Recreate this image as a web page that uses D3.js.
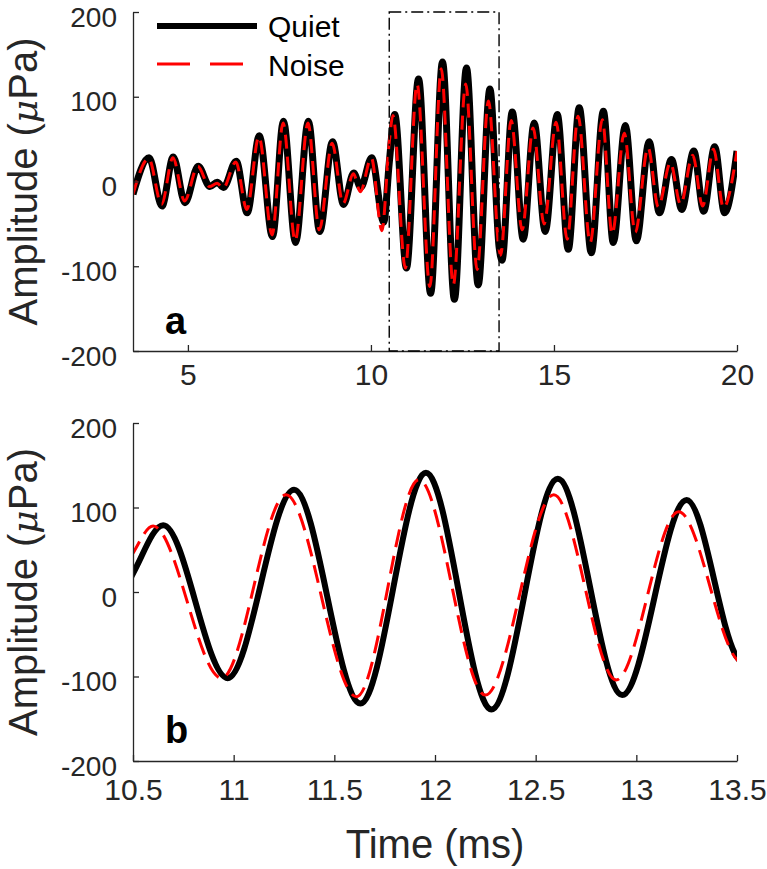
<!DOCTYPE html>
<html>
<head>
<meta charset="utf-8">
<script src="https://cdn.jsdelivr.net/npm/d3@7"></script>
<style>
  html, body { margin: 0; padding: 0; background: #fff; }
  svg { display: block; font-family: "Liberation Sans", Arial, Helvetica, sans-serif; }
  .axis path, .axis line { stroke: #262626; stroke-width: 1.3; }
  .axis text { fill: #262626; font-size: 30px; font-family: "Liberation Sans", Arial, sans-serif; }
  .yaxis text { font-size: 28px; }
</style>
</head>
<body>
<svg id="chart" width="767" height="869"></svg>
<script>
// ---- Data ----
const seriesNames = ["Quiet", "Noise"];
// Quiet (black solid): times (ms) and amplitudes (µPa) at extrema / anchor points
const tQuiet = [3.5, 3.94, 4.29, 4.60, 4.92, 5.28, 5.60, 5.80, 5.97, 6.32, 6.62, 6.95, 7.31, 7.61, 7.94,
  8.29, 8.60, 8.95, 9.25, 9.53, 9.72, 10.02, 10.35, 10.5, 10.65, 10.97, 11.30, 11.63, 11.955, 12.28,
  12.61, 12.93, 13.25, 13.5, 13.58, 13.86, 14.16, 14.46, 14.76, 15.09, 15.39, 15.69, 16.02, 16.35,
  16.62, 16.95, 17.25, 17.60, 17.88, 18.21, 18.49, 18.82, 19.09, 19.39, 19.66, 20.0];
const aQuiet = [-15, 28, -29, 29, -25, 18, -6, -1, -7, 24, -37, 54, -65, 71, -72,
  71, -59, 47, -27, 10, -7, 28, -48, 22, 79, -102, 121, -132, 141, -139,
  134, -122, 109, -77, -93, 82, -68, 69, -59, 79, -80, 87, -84, 83,
  -72, 66, -70, 47, -37, 26, -33, 36, -35, 41, -37, 36];
// Noise (red dashed)
const tNoise = [3.5, 3.93, 4.28, 4.59, 4.91, 5.27, 5.59, 5.80, 5.96, 6.31, 6.61, 6.94, 7.30, 7.60, 7.93,
  8.28, 8.59, 8.94, 9.24, 9.52, 9.71, 10.01, 10.30, 10.5, 10.60, 10.94, 11.26, 11.61, 11.92, 12.25,
  12.59, 12.90, 13.21, 13.5, 13.54, 13.83, 14.13, 14.43, 14.73, 15.06, 15.36, 15.66, 15.99, 16.32,
  16.59, 16.92, 17.22, 17.57, 17.85, 18.18, 18.46, 18.79, 19.06, 19.36, 19.63, 20.0];
const aNoise = [-15, 27, -27, 28, -23, 18, -6, -2, -8, 23, -33, 53, -63, 69, -70,
  69, -57, 45, -26, 9, -12, 28, -58, 46, 78, -102, 115, -124, 133, -122,
  115, -104, 95, -80, -87, 72, -57, 63, -50, 70, -68, 77, -72, 73,
  -62, 57, -60, 40, -30, 22, -27, 31, -29, 38, -31, 36];

const yTicks = [-200, -100, 0, 100, 200];
const xTicksTop = [5, 10, 15, 20];
const xTicksBottom = [10.5, 11, 11.5, 12, 12.5, 13, 13.5];
const zoomWindow = [10.5, 13.5];
const yDomain = [-200, 200];
const xDomainTop = [3.5, 20];

const quiet = tQuiet.map((t, i) => ({ t, a: aQuiet[i] }));
const noise = tNoise.map((t, i) => ({ t, a: aNoise[i] }));

// ---- Drawing ----
const svg = d3.select("#chart");

function panel(cfg) {
  const g = svg.append("g");
  const x = d3.scaleLinear().domain(cfg.xDomain).range([133, 737]);
  const y = d3.scaleLinear().domain(yDomain).range([cfg.yBottom, cfg.yTop]);

  const clipId = "clip" + cfg.id;
  svg.append("defs").append("clipPath").attr("id", clipId)
    .append("rect").attr("x", 133).attr("y", cfg.yTop - 20)
    .attr("width", 604).attr("height", cfg.yBottom - cfg.yTop + 40);

  const line = d3.line().x(d => x(d.t)).y(d => y(d.a)).curve(d3.curveMonotoneX);

  const lines = g.append("g").attr("clip-path", `url(#${clipId})`);
  lines.append("path").datum(quiet)
    .attr("d", line).attr("fill", "none").attr("stroke", "#000")
    .attr("stroke-width", cfg.blackW).attr("stroke-linejoin", "round");
  lines.append("path").datum(noise)
    .attr("d", line).attr("fill", "none").attr("stroke", "#ff0000")
    .attr("stroke-width", 3).attr("stroke-dasharray", cfg.dash);

  // axes
  const ay = g.append("g").attr("class", "axis yaxis")
    .attr("transform", "translate(133,0)")
    .call(d3.axisLeft(y).tickValues(yTicks).tickFormat(d => String(d))
      .tickSizeInner(-6).tickSizeOuter(0).tickPadding(16));
  ay.selectAll("text").attr("dy", "0.5em");

  g.append("g").attr("class", "axis")
    .attr("transform", `translate(0,${cfg.yBottom})`)
    .call(d3.axisBottom(x).tickValues(cfg.xTicks).tickFormat(d => String(d))
      .tickSizeInner(-6).tickSizeOuter(0).tickPadding(cfg.xPad));

  // y label
  const lab = g.append("text")
    .attr("transform", `translate(37,${(cfg.yTop + cfg.yBottom) / 2}) rotate(-90)`)
    .attr("text-anchor", "middle").attr("font-size", 40).attr("fill", "#262626");
  lab.append("tspan").text("Amplitude (");
  lab.append("tspan").attr("font-style", "italic").attr("font-family", "DejaVu Serif, serif").attr("font-size", 36).text("\u03bc");
  lab.append("tspan").text("Pa)");

  // panel letter
  g.append("text").attr("x", 165).attr("y", cfg.letterY)
    .attr("font-size", 38).attr("font-weight", "bold").attr("fill", "#000")
    .text(cfg.letter);

  return { g, x, y };
}

const panelA = panel({ id: "a", xDomain: xDomainTop, yTop: 12, yBottom: 351, xTicks: xTicksTop,
  blackW: 7, dash: "14,8", letter: "a", letterY: 334, xPad: 13 });

// zoom window rectangle (dash-dot)
panelA.g.append("rect")
  .attr("x", panelA.x(zoomWindow[0])).attr("y", panelA.y(200))
  .attr("width", panelA.x(zoomWindow[1]) - panelA.x(zoomWindow[0]))
  .attr("height", panelA.y(-200) - panelA.y(200))
  .attr("fill", "none").attr("stroke", "#000").attr("stroke-width", 1.4)
  .attr("stroke-dasharray", "12,4,2,4");

// legend
const leg = panelA.g.append("g");
leg.append("line").attr("x1", 157).attr("x2", 257).attr("y1", 26).attr("y2", 26)
  .attr("stroke", "#000").attr("stroke-width", 6);
leg.append("line").attr("x1", 157).attr("x2", 257).attr("y1", 64).attr("y2", 64)
  .attr("stroke", "#ff0000").attr("stroke-width", 3).attr("stroke-dasharray", "33,20");
leg.append("text").attr("x", 268).attr("y", 37).attr("font-size", 30).attr("fill", "#000").text(seriesNames[0]);
leg.append("text").attr("x", 268).attr("y", 76).attr("font-size", 30).attr("fill", "#000").text(seriesNames[1]);

const panelB = panel({ id: "b", xDomain: zoomWindow, yTop: 423, yBottom: 761, xTicks: xTicksBottom,
  blackW: 6, dash: "18,9", letter: "b", letterY: 743, xPad: 18 });

// x label
svg.append("text").attr("x", 435).attr("y", 858).attr("text-anchor", "middle")
  .attr("font-size", 40).attr("fill", "#262626").text("Time (ms)");
</script>
</body>
</html>
